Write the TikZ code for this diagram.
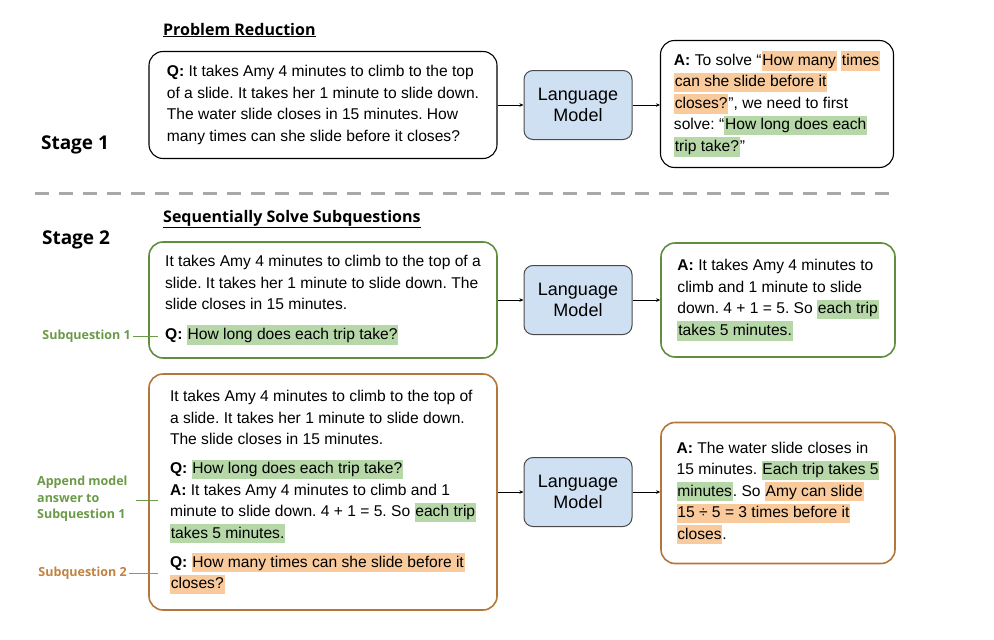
\documentclass[tikz,border=0pt]{standalone}
\usepackage{fontspec}
\setmainfont{Liberation Sans}
\newfontfamily\labelfont{Open Sans}
\usepackage{xcolor}
\usetikzlibrary{positioning, arrows.meta}
\frenchspacing

\definecolor{lmblue}{HTML}{CFE0F3}
\definecolor{lmborder}{HTML}{4A4A4A}
\definecolor{stagegreen}{HTML}{5F8F3E}
\definecolor{stagebrown}{HTML}{B5763A}
\definecolor{labelgreen}{HTML}{6A9A48}
\definecolor{labelbrown}{HTML}{C0823F}
\definecolor{hlgreen}{HTML}{B6D7A8}
\definecolor{hlorange}{HTML}{F9CB9C}
\definecolor{dashgray}{HTML}{A8A8A8}

\newcommand{\hlg}[1]{{\setlength{\fboxsep}{0.8pt}\colorbox{hlgreen}{\rule[-4.5pt]{0pt}{17.5pt}#1}}}
\newcommand{\hlo}[1]{{\setlength{\fboxsep}{0.8pt}\colorbox{hlorange}{\rule[-4.5pt]{0pt}{17.5pt}#1}}}

\tikzset{
    textbox/.style = {draw, rounded corners = 14pt, line width = 1.1pt, align = left,
        font = \fontsize{15.6}{21.5}\selectfont, inner sep = 0pt},
    greenbox/.style = {textbox, draw = stagegreen, line width = 1.6pt},
    brownbox/.style = {textbox, draw = stagebrown, line width = 1.6pt},
    lmbox/.style = {draw = lmborder, fill = lmblue, rounded corners = 9pt, line width = 1pt,
        minimum width = 108pt, minimum height = 69pt, align = center,
        font = \fontsize{18}{21}\selectfont},
    arr/.style = {-{Stealth[length = 4pt, width = 3.5pt]}, line width = 0.7pt},
    stagelabel/.style = {font = \labelfont\bfseries\fontsize{19}{22}\selectfont, inner sep = 0pt},
    heading/.style = {font = \labelfont\bfseries\fontsize{16}{19}\selectfont, inner sep = 0pt, anchor = west},
    sublabel/.style = {font = \labelfont\bfseries\fontsize{12.5}{16.5}\selectfont, inner sep = 2pt, align = left}
}

\begin{document}
\begin{tikzpicture}[x = 1pt, y = -1pt]
    \useasboundingbox (0, 0) rectangle (994, 640);

    % draw Stage 1
    \node[heading] (redtitle) at (163, 30) {\underline{Problem Reduction}};
    \node[stagelabel] (stage1) at (75, 145) {Stage 1};

    \node[textbox, minimum width = 348pt, minimum height = 107pt] (q1) at (323, 105)
        {\textbf{Q:} It takes Amy 4 minutes to climb to the top\\
        of a slide. It takes her 1 minute to slide down.\\
        The water slide closes in 15 minutes. How\\
        many times can she slide before it closes?};
    \node[lmbox] (lm1) at (578, 105) {Language\\Model};
    \node[textbox, minimum width = 233pt, minimum height = 127pt] (a1) at (777, 104)
        {\textbf{A:} To solve “\hlo{How many} \hlo{times}\\
        \hlo{can she slide before it}\\
        \hlo{closes?}”, we need to first\\
        solve: “\hlg{How long does each}\\
        \hlg{trip take?}”};

    \draw[arr] (q1.east) -- (q1.east -| lm1.west);
    \draw[arr] (lm1.east) -- (lm1.east -| a1.west);


    % draw separator
    \draw[dashgray, line width = 3pt, dash pattern = on 14pt off 10pt] (35, 193) -- (897, 193);


    % draw Stage 2, first subquestion
    \node[heading] (seqtitle) at (163, 219) {\underline{Sequentially Solve Subquestions}};
    \node[stagelabel] (stage2) at (76, 240) {Stage 2};

    \node[greenbox, minimum width = 348pt, minimum height = 116pt] (sq1) at (323, 300)
        {It takes Amy 4 minutes to climb to the top of a\\
        slide. It takes her 1 minute to slide down. The\\
        slide closes in 15 minutes.\\[8pt]
        \textbf{Q:} \hlg{How long does each trip take?}};
    \node[lmbox] (lm2) at (578, 300) {Language\\Model};
    \node[greenbox, minimum width = 234pt, minimum height = 114pt] (a2) at (778, 300)
        {\textbf{A:} It takes Amy 4 minutes to\\
        climb and 1 minute to slide\\
        down. 4 + 1 = 5. So \hlg{each trip}\\
        \hlg{takes 5 minutes.}};

    \draw[arr] (sq1.east) -- (sq1.east -| lm2.west);
    \draw[arr] (lm2.east) -- (lm2.east -| a2.west);

    \node[sublabel, text = labelgreen, anchor = east] (sub1) at (133, 336) {Subquestion 1};
    \coordinate (sub1end) at (158, 336);
    \draw[labelgreen, line width = 1pt] (sub1.east) -- (sub1end);


    % draw Stage 2, second subquestion
    \node[brownbox, minimum width = 348pt, minimum height = 236pt] (sq2) at (323, 492)
        {It takes Amy 4 minutes to climb to the top of\\
        a slide. It takes her 1 minute to slide down.\\
        The slide closes in 15 minutes.\\[7.5pt]
        \textbf{Q:} \hlg{How long does each trip take?}\\
        \textbf{A:} It takes Amy 4 minutes to climb and 1\\
        minute to slide down. 4 + 1 = 5. So \hlg{each trip}\\
        \hlg{takes 5 minutes.}\\[7.5pt]
        \textbf{Q:} \hlo{How many times can she slide before it}\\
        \hlo{closes?}};
    \node[lmbox] (lm3) at (578, 492) {Language\\Model};
    \node[brownbox, minimum width = 234pt, minimum height = 141pt] (a3) at (778, 493)
        {\textbf{A:} The water slide closes in\\
        15 minutes. \hlg{Each trip takes 5}\\
        \hlg{minutes}. So \hlo{Amy can slide}\\
        \hlo{15 ÷ 5 = 3 times before it}\\
        \hlo{closes}.};

    \draw[arr] (sq2.east) -- (sq2.east -| lm3.west);
    \draw[arr] (lm3.east) -- (lm3.east -| a3.west);

    \node[sublabel, text = labelgreen, anchor = west] (append) at (35, 499)
        {Append model\\answer to\\Subquestion 1};
    \coordinate (appendstart) at (136, 500);
    \coordinate (appendend) at (158, 500);
    \draw[labelgreen, line width = 1pt] (appendstart) -- (appendend);

    \node[sublabel, text = labelbrown, anchor = east] (sub2) at (129, 573) {Subquestion 2};
    \coordinate (sub2end) at (158, 573);
    \draw[labelbrown, line width = 1pt] (sub2.east) -- (sub2end);

\end{tikzpicture}
\end{document}
